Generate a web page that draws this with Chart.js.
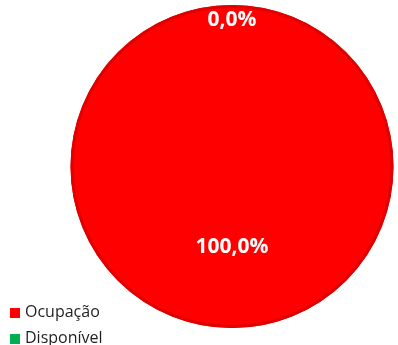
<!DOCTYPE html>
<html>
<head>
<meta charset="utf-8">
<script src="https://cdn.jsdelivr.net/npm/chart.js@4/dist/chart.umd.min.js"></script>
<style>
    html, body { margin: 0; padding: 0; background: #fff; }
    #wrap { position: relative; width: 398px; height: 345px; }
    #legend {
        position: absolute; left: 10px; top: 299px;
        font-family: "Open Sans", sans-serif; font-size: 16px; color: #1f1f1f;
    }
    .item { height: 26px; line-height: 24px; white-space: nowrap; }
    .box { display: inline-block; width: 10px; height: 10px; margin-right: 5px; vertical-align: -1px; }
</style>
</head>
<body>
<div id="wrap">
    <canvas id="occupancyChart" width="398" height="345"></canvas>
    <div id="legend"></div>
</div>
<script>
const categories = ["Ocupação", "Disponível"];
const shares = [100, 0];
const sliceColors = ["#ff0000", "#00b050"];
const labelDistance = [0.5, 0.91];

// darker rim around the pie, without the radial seam of a full slice
const pieRim = {
    id: "pieRim",
    afterDatasetsDraw(chart) {
        const arc = chart.getDatasetMeta(0).data[0];
        const p = arc.getProps(["x", "y", "outerRadius"], true);
        const ctx = chart.ctx;
        ctx.save();
        ctx.strokeStyle = "#e00000";
        ctx.lineWidth = 3;
        ctx.beginPath();
        ctx.arc(p.x, p.y, p.outerRadius - 1.5, 0, Math.PI * 2);
        ctx.stroke();
        ctx.restore();
    },
};

// white percentage labels drawn on top of each slice
const sliceLabels = {
    id: "sliceLabels",
    afterDatasetsDraw(chart) {
        const ctx = chart.ctx;
        const meta = chart.getDatasetMeta(0);
        ctx.save();
        ctx.font = "bold 21px 'Open Sans', sans-serif";
        ctx.fillStyle = "#ffffff";
        ctx.textAlign = "center";
        ctx.textBaseline = "middle";
        meta.data.forEach((arc, i) => {
            const p = arc.getProps(["x", "y", "startAngle", "endAngle", "outerRadius"], true);
            const mid = (p.startAngle + p.endAngle) / 2;
            const r = p.outerRadius * labelDistance[i];
            const text = shares[i].toFixed(1).replace(".", ",") + "%";
            ctx.fillText(text, p.x + Math.cos(mid) * r, p.y + Math.sin(mid) * r);
        });
        ctx.restore();
    },
};

new Chart(document.getElementById("occupancyChart"), {
    type: "pie",
    data: {
        labels: categories,
        datasets: [
            {
                data: shares,
                backgroundColor: sliceColors,
                borderWidth: 0,
            },
        ],
    },
    options: {
        responsive: false,
        animation: false,
        layout: { padding: { left: 68, right: 2, top: 5, bottom: 17 } },
        plugins: {
            legend: { display: false },
            tooltip: { enabled: false },
        },
    },
    plugins: [pieRim, sliceLabels],
});

const legend = document.getElementById("legend");
categories.forEach((name, i) => {
    const row = document.createElement("div");
    row.className = "item";
    row.innerHTML = '<span class="box" style="background:' + sliceColors[i] + '"></span>' + name;
    legend.appendChild(row);
});
</script>
</body>
</html>
